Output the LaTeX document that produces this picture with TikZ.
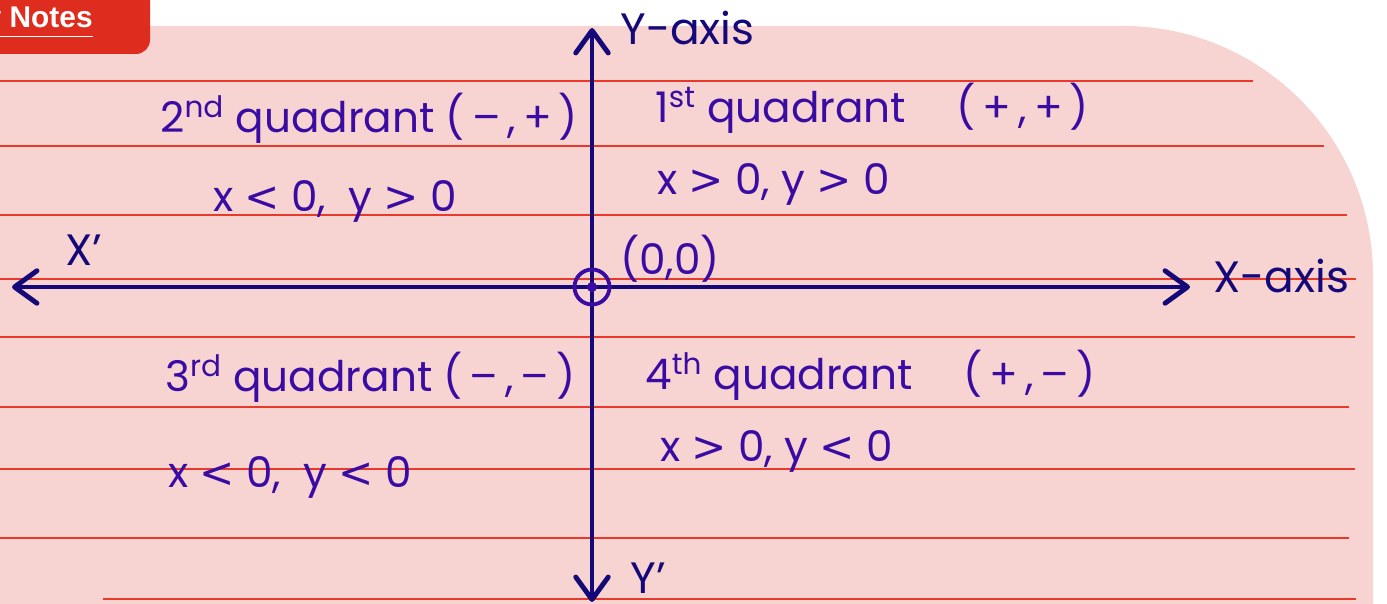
\documentclass[tikz,border=0pt]{standalone}
\usepackage{fontspec}
\setmainfont{Poppins}
\newfontfamily\tabfont{Liberation Sans}
\newfontfamily\signfont{DejaVu Sans}
\usepackage{tikz}
\usetikzlibrary{arrows.meta}
\definecolor{nbPink}{HTML}{F7D4D1}
\definecolor{nbRule}{HTML}{E8392B}
\definecolor{nbTab}{HTML}{DE2C1E}
\definecolor{nbAxis}{HTML}{15097A}
\definecolor{nbInk}{HTML}{3A0CA3}
\newcommand{\ltmark}{{\signfont<}}
\newcommand{\gtmark}{{\signfont>}}
\tikzset{
  ruling/.style={nbRule, line width=1.1pt},
  axisline/.style={
    nbAxis, line width=2.8pt, line cap=round,
    {Straight Barb[length=4.5mm, width=6.5mm, round]}-{Straight Barb[length=4.5mm, width=6.5mm, round]}
  },
  ink/.style={text=nbInk, font=\fontsize{24}{28}\selectfont, anchor=base west, inner sep=0pt},
  axlabel/.style={text=nbAxis, font=\fontsize{25}{28}\selectfont, anchor=base west, inner sep=0pt},
  tabtext/.style={text=white, font=\tabfont\bfseries\fontsize{17}{19}\selectfont, anchor=base east, inner sep=0pt}
}

\begin{document}
\begin{tikzpicture}[x=0.02cm, y=-0.02cm]
  \clip (0,0) rectangle (1387,604);
  % page and tab
  \fill[nbPink, rounded corners=5cm] (-300,26) -- (1373,26) -- (1373,1100) -- (-300,1100) -- cycle;
  \fill[nbTab, rounded corners=8pt] (-40,-20) rectangle (150,54);
  \node[tabtext] (tab) at (93,28) {\underline{My Notes}};
  % ruled lines
  \foreach \y/\e in {81/1253, 146/1324, 215/1347, 279/1356, 337/1355, 407/1349, 469/1355, 538/1349}
    \draw[ruling] (0,\y) -- (\e,\y);
  \draw[ruling] (103,599) -- (1356,599);
  % axes
  \coordinate (O) at (592,287);
  \coordinate (xneg) at (12,287);
  \coordinate (xpos) at (1190,287);
  \coordinate (ypos) at (592,28);
  \coordinate (yneg) at (592,602);
  \draw[axisline] (xneg) -- (xpos);
  \draw[axisline] (yneg) -- (ypos);
  \draw[nbInk, line width=2.2pt] (O) circle[radius=0.35cm];
  \fill[nbInk] (O) circle[radius=0.1cm];
  % labels
  \node[axlabel] (ylab) at (620,45) {Y-axis};
  \node[axlabel] (xlab) at (1213,293) {X-axis};
  \node[axlabel] (xprime) at (65,266) {X'};
  \node[axlabel] (yprime) at (630,594) {Y'};
  \node[ink] (orig) at (620,275) {(0,0)};
  \node[ink] (q1) at (655,123) {1\textsuperscript{st} quadrant\hspace{1.2em}(\,+\,,\,+\,)};
  \node[ink] (q1c) at (657,195) {x \gtmark\ 0, y \gtmark\ 0};
  \node[ink] (q2) at (160,133) {2\textsuperscript{nd} quadrant (\,--\,,\,+\,)};
  \node[ink] (q2c) at (213,212) {x \ltmark\ 0,\ \ y \gtmark\ 0};
  \node[ink] (q3) at (165,392) {3\textsuperscript{rd} quadrant (\,--\,,\,--\,)};
  \node[ink] (q3c) at (168,488) {x \ltmark\ 0,\ \ y \ltmark\ 0};
  \node[ink] (q4) at (645,390) {4\textsuperscript{th} quadrant\hspace{1.2em}(\,+\,,\,--\,)};
  \node[ink] (q4c) at (660,462) {x \gtmark\ 0, y \ltmark\ 0};
\end{tikzpicture}
\end{document}
